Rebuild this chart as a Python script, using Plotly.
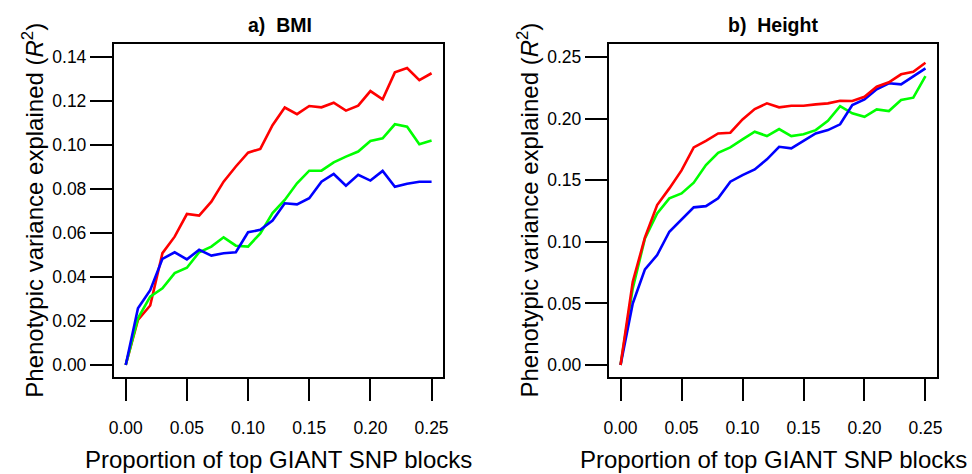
import plotly.graph_objects as go

W, H = 972, 474

prop = [round(0.01 * i, 2) for i in range(26)]

bmi_red = [0, .0205, .027, .0508, .0583, .0686, .0679, .0742, .0833, .0902, .0965, .0982, .109,
           .117, .114, .1177, .1171, .1192, .1156, .1179, .1245, .1208, .133, .135, .1295, .1326]
bmi_green = [0, .0212, .031, .0348, .0417, .0442, .0512, .0538, .058, .0542, .0538, .0598, .069,
             .075, .0826, .0883, .0883, .0921, .0947, .097, .1018, .103, .1094, .1083, .1003, .102]
bmi_blue = [0, .0258, .034, .0482, .0512, .048, .0523, .0497, .0508, .0512, .0603, .0614, .0656,
            .0735, .073, .0758, .0833, .0868, .0815, .0864, .0838, .0882, .081, .0824, .0833, .0833]

ht_red = [0, .0676, .1036, .1299, .1434, .158, .1767, .182, .188, .1886, .1994, .2078, .2124,
          .2092, .2105, .2105, .2116, .2124, .2145, .2143, .2178, .2259, .2295, .236, .2381, .2454]
ht_green = [0, .0622, .1028, .1231, .1353, .1393, .148, .1623, .1723, .1767, .1832, .1894, .1859,
            .1916, .1859, .1873, .1907, .1983, .2102, .2043, .2015, .2075, .2062, .2151, .217, .2346]
ht_blue = [0, .05, .0777, .0893, .1082, .1177, .128, .129, .1353, .1488, .1542, .1588, .167,
           .1772, .1759, .182, .188, .1907, .1954, .211, .2157, .2238, .2287, .2278, .234, .2408]

x_ticks = [0, 0.05, 0.10, 0.15, 0.20, 0.25]
x_ticktext = ["0.00", "0.05", "0.10", "0.15", "0.20", "0.25"]
bmi_yticks = [0, 0.02, 0.04, 0.06, 0.08, 0.10, 0.12, 0.14]
bmi_yticktext = ["0.00", "0.02", "0.04", "0.06", "0.08", "0.10", "0.12", "0.14"]
ht_yticks = [0, 0.05, 0.10, 0.15, 0.20, 0.25]
ht_yticktext = ["0.00", "0.05", "0.10", "0.15", "0.20", "0.25"]

titles = ["<b>a)\u00a0 BMI</b>", "<b>b)\u00a0 Height</b>"]
ytitle = "Phenotypic variance explained (<i>R</i><sup>2</sup>)"
xtitle = "Proportion of top GIANT SNP blocks"

RED, GREEN, BLUE = "#FF0000", "#00FF00", "#0000FF"
FONT = "Liberation Sans, Arial, Helvetica, sans-serif"

LW = 2.6
fig = go.Figure(go.Scatter(x=prop, y=bmi_red, mode="lines", line=dict(color=RED, width=LW)))
fig.add_trace(go.Scatter(x=prop, y=bmi_green, mode="lines", line=dict(color=GREEN, width=LW)))
fig.add_trace(go.Scatter(x=prop, y=bmi_blue, mode="lines", line=dict(color=BLUE, width=LW)))
fig.add_trace(go.Scatter(x=prop, y=ht_green, mode="lines", line=dict(color=GREEN, width=LW),
                         xaxis="x2", yaxis="y2"))
fig.add_trace(go.Scatter(x=prop, y=ht_blue, mode="lines", line=dict(color=BLUE, width=LW),
                         xaxis="x2", yaxis="y2"))
fig.add_trace(go.Scatter(x=prop, y=ht_red, mode="lines", line=dict(color=RED, width=LW),
                         xaxis="x2", yaxis="y2"))

def px(v):
    return v / W

def py(v):
    return 1 - v / H

ydom = [py(377), py(44)]
cx = dict(showline=True, linecolor="black", linewidth=2, mirror=True,
          ticks="outside", ticklen=22, tickwidth=2, tickcolor="#000000",
          tickvals=x_ticks, ticktext=x_ticktext, showgrid=False, zeroline=False,
          tickfont=dict(family=FONT, size=17.5, color="black"),
          ticklabelstandoff=12, range=[-0.0097, 0.2597])
cy = dict(showline=True, linecolor="black", linewidth=2, mirror=True,
          ticks="outside", ticklen=22, tickwidth=2, tickcolor="#000000",
          showgrid=False, zeroline=False,
          tickfont=dict(family=FONT, size=17.5, color="black"))

fig.update_layout(
    width=W, height=H, plot_bgcolor="white", paper_bgcolor="white",
    margin=dict(l=0, r=0, t=0, b=0), showlegend=False,
    xaxis=dict(domain=[px(110), px(443)], anchor="y", **cx),
    yaxis=dict(domain=ydom, anchor="x", range=[-0.0055, 0.1459],
               tickvals=bmi_yticks, ticktext=bmi_yticktext, **cy),
    xaxis2=dict(domain=[px(610), px(942)], anchor="y2", **cx),
    yaxis2=dict(domain=ydom, anchor="x2", range=[-0.0097, 0.2606],
                tickvals=ht_yticks, ticktext=ht_yticktext, **cy),
)

ann = []
for cxp, t in [(277.5, titles[0]), (776, titles[1])]:
    ann.append(dict(x=px(cxp), y=py(25), xref="paper", yref="paper", text=t, showarrow=False,
                    xanchor="center", yanchor="middle",
                    font=dict(family=FONT, size=19.5, color="black")))
for cxp in [276.5, 776]:
    ann.append(dict(x=px(cxp), y=py(459), xref="paper", yref="paper", text=xtitle, showarrow=False,
                    xanchor="center", yanchor="middle",
                    font=dict(family=FONT, size=24, color="black")))
for cxp in [28, 528]:
    ann.append(dict(x=px(cxp), y=py(210), xref="paper", yref="paper", text=ytitle, showarrow=False,
                    textangle=-90, xanchor="center", yanchor="middle",
                    font=dict(family=FONT, size=24, color="black")))
fig.update_layout(annotations=ann)

fig.write_html("out.html", post_script="document.body.style.margin='0';",
               config={"displayModeBar": False})
